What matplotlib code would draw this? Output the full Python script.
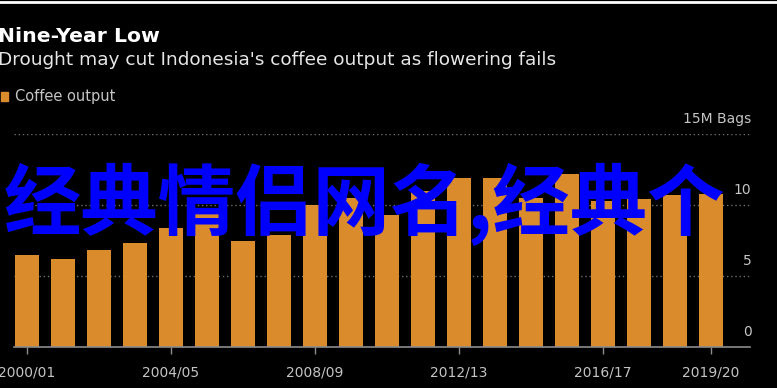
import numpy as np
import matplotlib.pyplot as plt
from matplotlib.lines import Line2D
from matplotlib.patches import Rectangle

# coffee output, million bags, 2000/01 .. 2019/20
seasons = ["2000/01", "2001/02", "2002/03", "2003/04", "2004/05", "2005/06",
           "2006/07", "2007/08", "2008/09", "2009/10", "2010/11", "2011/12",
           "2012/13", "2013/14", "2014/15", "2015/16", "2016/17", "2017/18",
           "2018/19", "2019/20"]
output = [6.5, 6.2, 6.8, 7.3, 8.4, 9.4, 7.5, 7.9, 10.0, 10.5,
          9.3, 11.0, 11.9, 11.9, 10.5, 12.2, 10.3, 10.4, 10.7, 10.8]
shown_ticks = ["2000/01", "2004/05", "2008/09", "2012/13", "2016/17", "2019/20"]
y_ticks = [0, 5, 10, 15]

bar_color = "#DA8B2B"
grid_color = "#6e6e6e"
label_color = "#c4c4c4"

fig = plt.figure(figsize=(7.77, 3.88), dpi=100, facecolor="black")
W, H = 777, 388
ax = fig.add_axes([14 / W, 41 / H, (750 - 14) / W, (347 - 134) / H])
ax.set_facecolor("black")

x = np.arange(len(seasons))
ax.bar(x, output, width=0.667, color=bar_color, zorder=2)
ax.set_xlim(-0.361, 20.08)
ax.set_ylim(0, 15)

for v in y_ticks[1:]:
    ax.axhline(v, color=grid_color, lw=1, ls=(0, (1, 2)), zorder=1)
for v in y_ticks:
    lab = "15M Bags" if v == 15 else str(v)
    ax.text(1.002, v + 0.55, lab, transform=ax.get_yaxis_transform(),
            ha="right", va="bottom", color=label_color, fontsize=10)

for s in ["top", "right", "left"]:
    ax.spines[s].set_visible(False)
ax.spines["bottom"].set_color("#8c8c8c")
ax.spines["bottom"].set_linewidth(1.2)
ax.set_yticks([])
ax.set_xticks([seasons.index(t) for t in shown_ticks])
ax.set_xticklabels(shown_ticks, color=label_color, fontsize=10)
ax.tick_params(axis="x", colors="#8c8c8c", length=5, width=1, pad=8,
               labelcolor=label_color)

# header
fig.add_artist(Line2D([0, 1], [1 - 1.5 / H, 1 - 1.5 / H], color="white", lw=2))
fig.text(-2 / W, 1 - 36 / H, "Nine-Year Low", color="white", fontsize=14.7,
         fontweight="bold", va="center", ha="left")
fig.text(-2 / W, 1 - 60 / H,
         "Drought may cut Indonesia's coffee output as flowering fails",
         color="#e6e6e6", fontsize=13.3, va="center", ha="left")
fig.add_artist(Rectangle((1 / W, 1 - 101 / H), 7 / W, 9 / H,
                         color=bar_color, transform=fig.transFigure))
fig.text(15 / W, 1 - 96 / H, "Coffee output", color=label_color,
         fontsize=10.5, va="center", ha="left")

# overlaid watermark text
fig.text(4 / W, 1 - 204 / H, "经典情侣网名,经典个", color="#0000FF",
         fontsize=55.7, fontweight="bold", va="center", ha="left",
         family=["Noto Sans CJK SC", "DejaVu Sans"])

fig.savefig("out.png", dpi=100, facecolor="black")
